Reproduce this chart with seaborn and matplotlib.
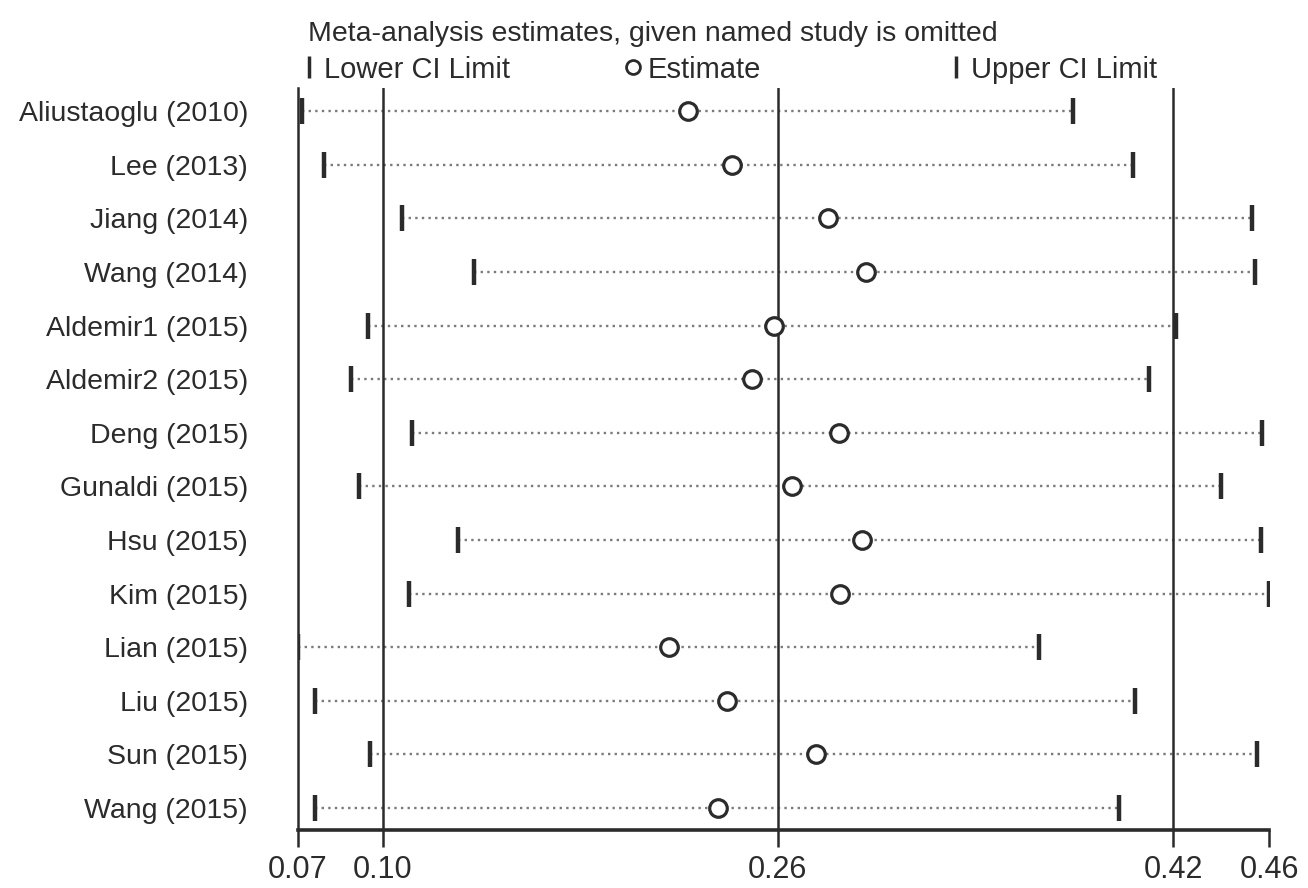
import seaborn as sns
import matplotlib.pyplot as plt
import pandas as pd
from matplotlib.lines import Line2D

# influence analysis: estimate when each study is omitted
studies = ['Aliustaoglu (2010)', 'Lee (2013)', 'Jiang (2014)', 'Wang (2014)',
           'Aldemir1 (2015)', 'Aldemir2 (2015)', 'Deng (2015)', 'Gunaldi (2015)',
           'Hsu (2015)', 'Kim (2015)', 'Lian (2015)', 'Liu (2015)', 'Sun (2015)',
           'Wang (2015)']
lower = [0.0672, 0.0761, 0.1077, 0.1369, 0.0939, 0.0870, 0.1117, 0.0903,
         0.1304, 0.1105, 0.0656, 0.0725, 0.0947, 0.0725]
estimate = [0.2235, 0.2414, 0.2802, 0.2956, 0.2584, 0.2495, 0.2847, 0.2657,
            0.2940, 0.2851, 0.2158, 0.2393, 0.2754, 0.2357]
upper = [0.3795, 0.4038, 0.4520, 0.4532, 0.4212, 0.4102, 0.4560, 0.4394,
         0.4556, 0.4589, 0.3657, 0.4046, 0.4540, 0.3981]

# overall estimate with CI (reference lines)
overall = [0.10, 0.26, 0.42]
x_ticks = [0.0656, 0.10, 0.26, 0.42, 0.4589]
x_labels = ['0.07', '0.10', '0.26', '0.42', '0.46']

df = pd.DataFrame({'study': studies, 'lower': lower,
                   'estimate': estimate, 'upper': upper})

sns.set_style('white')
plt.rcParams['font.family'] = ['Liberation Sans', 'DejaVu Sans']

dark = '#2b2b2b'

fig = plt.figure(figsize=(13.08, 8.88), dpi=100)
ax = fig.add_axes([0.2278, 0.0653, 0.7424, 0.8356])

# dotted CI lines
ax.hlines(df['study'], df['lower'], df['upper'], colors='#7a7a7a',
          linestyles=(0, (1, 1.8)), linewidth=1.7, zorder=1)

for v in overall:
    ax.axvline(v, color=dark, linewidth=1.8, zorder=2)

sns.scatterplot(data=df, x='lower', y='study', marker='|', s=360,
                linewidth=3.2, color=dark, zorder=3, ax=ax)
sns.scatterplot(data=df, x='upper', y='study', marker='|', s=360,
                linewidth=3.2, color=dark, zorder=3, ax=ax)
sns.scatterplot(data=df, x='estimate', y='study', marker='o', s=160,
                facecolor='white', edgecolor=dark, linewidth=2.3, zorder=4, ax=ax)

ax.set_xlim(x_ticks[0], x_ticks[-1])
ax.set_ylim(len(studies) - 0.59, -0.43)
ax.set_xticks(x_ticks, x_labels)
ax.set_xlabel('')
ax.set_ylabel('')

for s in ['top', 'right']:
    ax.spines[s].set_visible(False)
ax.spines['left'].set_color(dark)
ax.spines['left'].set_linewidth(1.8)
ax.spines['bottom'].set_color(dark)
ax.spines['bottom'].set_linewidth(2.6)

ax.tick_params(axis='x', length=12, width=1.8, color=dark, labelsize=22,
               pad=6, labelcolor=dark, bottom=True)
ax.tick_params(axis='y', length=0, labelsize=20.5, pad=36, labelcolor=dark)

fig.text(308 / 1308, 1 - 41 / 888,
         'Meta-analysis estimates, given named study is omitted',
         fontsize=20.5, color=dark, va='baseline')

# legend, one entry at a time
entries = [
    (Line2D([], [], marker='|', linestyle='none', markersize=16,
            markeredgewidth=2.5, color=dark), 'Lower CI Limit', 286),
    (Line2D([], [], marker='o', linestyle='none', markersize=10,
            markerfacecolor='white', markeredgewidth=2, color=dark), 'Estimate', 610),
    (Line2D([], [], marker='|', linestyle='none', markersize=16,
            markeredgewidth=2.5, color=dark), 'Upper CI Limit', 933),
]
for handle, label, xpix in entries:
    fig.legend(handles=[handle], labels=[label], loc='upper left',
               bbox_to_anchor=(xpix / 1308, 1 - 41 / 888), frameon=False,
               fontsize=21, handlelength=0.6, handletextpad=0.2,
               borderpad=0, labelcolor=dark)

plt.savefig('out.png', dpi=100)
